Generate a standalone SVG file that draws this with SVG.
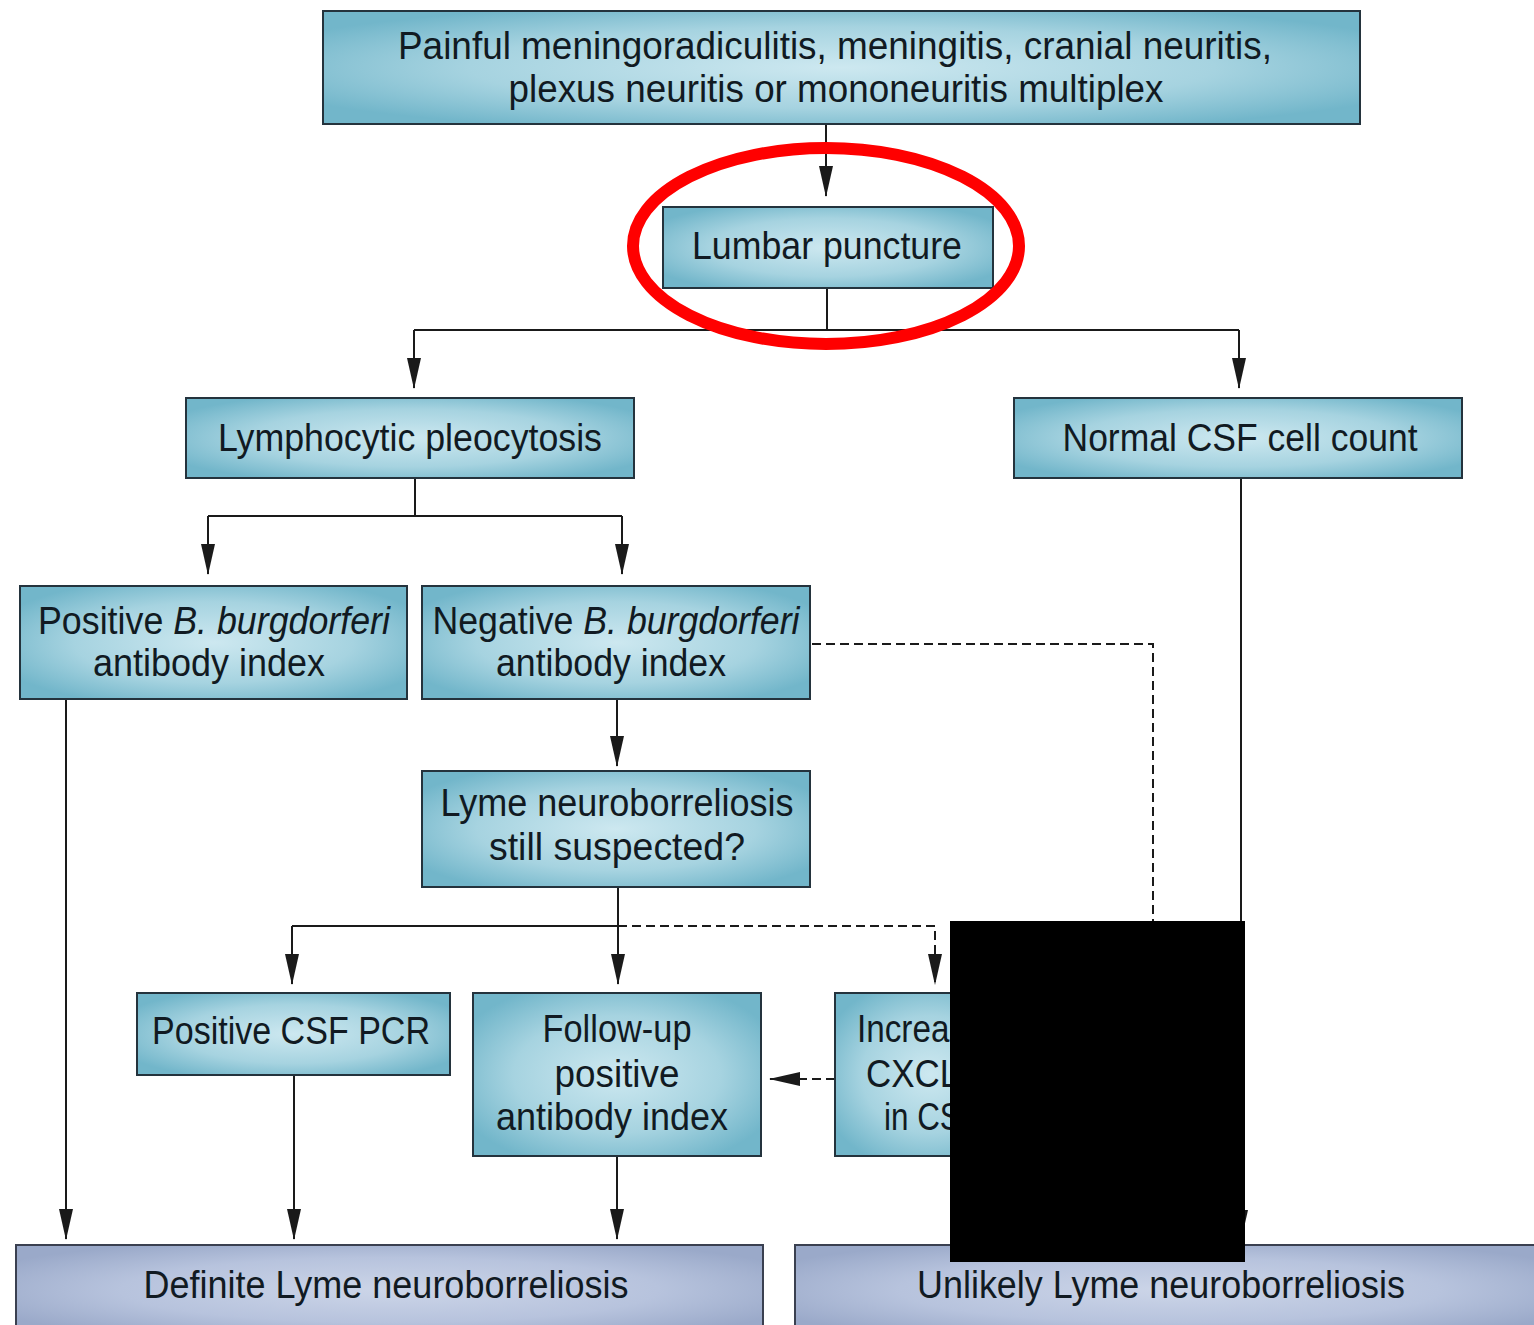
<svg xmlns="http://www.w3.org/2000/svg" width="1534" height="1325" viewBox="0 0 1534 1325">
<defs>
<radialGradient id="teal" cx="50%" cy="50%" r="60%">
<stop offset="0" stop-color="#cde8f0"/>
<stop offset="0.6" stop-color="#a6d3e0"/>
<stop offset="1" stop-color="#72b6ca"/>
</radialGradient>
<radialGradient id="slate" cx="50%" cy="50%" r="60%">
<stop offset="0" stop-color="#ccd5e8"/>
<stop offset="0.6" stop-color="#b7c3dd"/>
<stop offset="1" stop-color="#9aa9c9"/>
</radialGradient>
<marker id="ah" markerWidth="32" markerHeight="14" refX="30" refY="7" orient="auto" markerUnits="userSpaceOnUse" viewBox="0 0 32 14">
<path d="M0,0 L31,7 L0,14 Z" fill="#1a1a1a"/>
</marker>
</defs>
<style>
.box{fill:url(#teal);stroke:#24333d;stroke-width:2}
.end{fill:url(#slate);stroke:#3a4050;stroke-width:2}
.t{font-family:"Liberation Sans",Arial,sans-serif;font-size:38px;fill:#111a22;text-anchor:middle}
.c{fill:none;stroke:#1a1a1a;stroke-width:2}
.d{fill:none;stroke:#1a1a1a;stroke-width:2;stroke-dasharray:9,5}
</style>
<rect width="1534" height="1325" fill="#ffffff"/>

<g id="connectors">
<path class="c" d="M826,124 V196" marker-end="url(#ah)"/>
<path class="c" d="M827,288 V330 M414,330 H1239"/>
<path class="c" d="M414,330 V388" marker-end="url(#ah)"/>
<path class="c" d="M1239,330 V388" marker-end="url(#ah)"/>
<path class="c" d="M415,478 V516 M208,516 H622"/>
<path class="c" d="M208,516 V574" marker-end="url(#ah)"/>
<path class="c" d="M622,516 V574" marker-end="url(#ah)"/>
<path class="c" d="M617,699 V766" marker-end="url(#ah)"/>
<path class="d" d="M812,644 H1153 V1240"/>
<path class="c" d="M1241,478 V1240" marker-end="url(#ah)"/>
<path class="c" d="M618,887 V984" marker-end="url(#ah)"/>
<path class="c" d="M292,926 H618"/>
<path class="c" d="M292,926 V984" marker-end="url(#ah)"/>
<path class="d" d="M618,926 H935 V984" marker-end="url(#ah)"/>
<path class="d" d="M835,1079 H770" marker-end="url(#ah)"/>
<path class="c" d="M66,699 V1239" marker-end="url(#ah)"/>
<path class="c" d="M294,1075 V1239" marker-end="url(#ah)"/>
<path class="c" d="M617,1156 V1239" marker-end="url(#ah)"/>
</g>

<g id="n-top">
<rect class="box" x="323" y="11" width="1037" height="113"/>
<text class="t" x="835" y="59" textLength="874" lengthAdjust="spacingAndGlyphs">Painful meningoradiculitis, meningitis, cranial neuritis,</text>
<text class="t" x="836" y="102" textLength="655" lengthAdjust="spacingAndGlyphs">plexus neuritis or mononeuritis multiplex</text>
</g>
<g id="n-lumbar">
<rect class="box" x="663" y="207" width="330" height="81"/>
<text class="t" x="827" y="259" textLength="270" lengthAdjust="spacingAndGlyphs">Lumbar puncture</text>
</g>
<ellipse id="highlight" cx="826" cy="246" rx="193" ry="98" fill="none" stroke="#ff0000" stroke-width="12"/>
<g id="n-lymph">
<rect class="box" x="186" y="398" width="448" height="80"/>
<text class="t" x="410" y="451" textLength="384" lengthAdjust="spacingAndGlyphs">Lymphocytic pleocytosis</text>
</g>
<g id="n-normal">
<rect class="box" x="1014" y="398" width="448" height="80"/>
<text class="t" x="1240" y="451" textLength="355" lengthAdjust="spacingAndGlyphs">Normal CSF cell count</text>
</g>
<g id="n-pos">
<rect class="box" x="20" y="586" width="387" height="113"/>
<text class="t" x="214" y="634" textLength="352" lengthAdjust="spacingAndGlyphs">Positive <tspan font-style="italic">B. burgdorferi</tspan></text>
<text class="t" x="209" y="676" textLength="232" lengthAdjust="spacingAndGlyphs">antibody index</text>
</g>
<g id="n-neg">
<rect class="box" x="422" y="586" width="388" height="113"/>
<text class="t" x="616" y="634" textLength="367" lengthAdjust="spacingAndGlyphs">Negative <tspan font-style="italic">B. burgdorferi</tspan></text>
<text class="t" x="611" y="676" textLength="230" lengthAdjust="spacingAndGlyphs">antibody index</text>
</g>
<g id="n-still">
<rect class="box" x="422" y="771" width="388" height="116"/>
<text class="t" x="617" y="816" textLength="353" lengthAdjust="spacingAndGlyphs">Lyme neuroborreliosis</text>
<text class="t" x="617" y="860" textLength="256" lengthAdjust="spacingAndGlyphs">still suspected?</text>
</g>
<g id="n-pcr">
<rect class="box" x="137" y="993" width="313" height="82"/>
<text class="t" x="291" y="1044" textLength="278" lengthAdjust="spacingAndGlyphs">Positive CSF PCR</text>
</g>
<g id="n-follow">
<rect class="box" x="473" y="993" width="288" height="163"/>
<text class="t" x="617" y="1042" textLength="149" lengthAdjust="spacingAndGlyphs">Follow-up</text>
<text class="t" x="617" y="1087" textLength="125" lengthAdjust="spacingAndGlyphs">positive</text>
<text class="t" x="612" y="1130" textLength="232" lengthAdjust="spacingAndGlyphs">antibody index</text>
</g>
<g id="n-cxcl">
<rect class="box" x="835" y="993" width="190" height="163"/>
<text class="t" x="930" y="1042" textLength="146" lengthAdjust="spacingAndGlyphs">Increased</text>
<text class="t" x="932" y="1087" textLength="132" lengthAdjust="spacingAndGlyphs">CXCL13</text>
<text class="t" x="932" y="1130" textLength="96" lengthAdjust="spacingAndGlyphs">in CSF</text>
</g>
<g id="n-definite">
<rect class="end" x="16" y="1245" width="747" height="90"/>
<text class="t" x="386" y="1298" textLength="485" lengthAdjust="spacingAndGlyphs" fill="#2a3040">Definite Lyme neuroborreliosis</text>
</g>
<g id="n-unlikely">
<rect class="end" x="795" y="1245" width="750" height="90"/>
<text class="t" x="1161" y="1298" textLength="488" lengthAdjust="spacingAndGlyphs">Unlikely Lyme neuroborreliosis</text>
</g>
<rect id="redaction" x="950" y="921" width="295" height="341" fill="#000000"/>
</svg>
